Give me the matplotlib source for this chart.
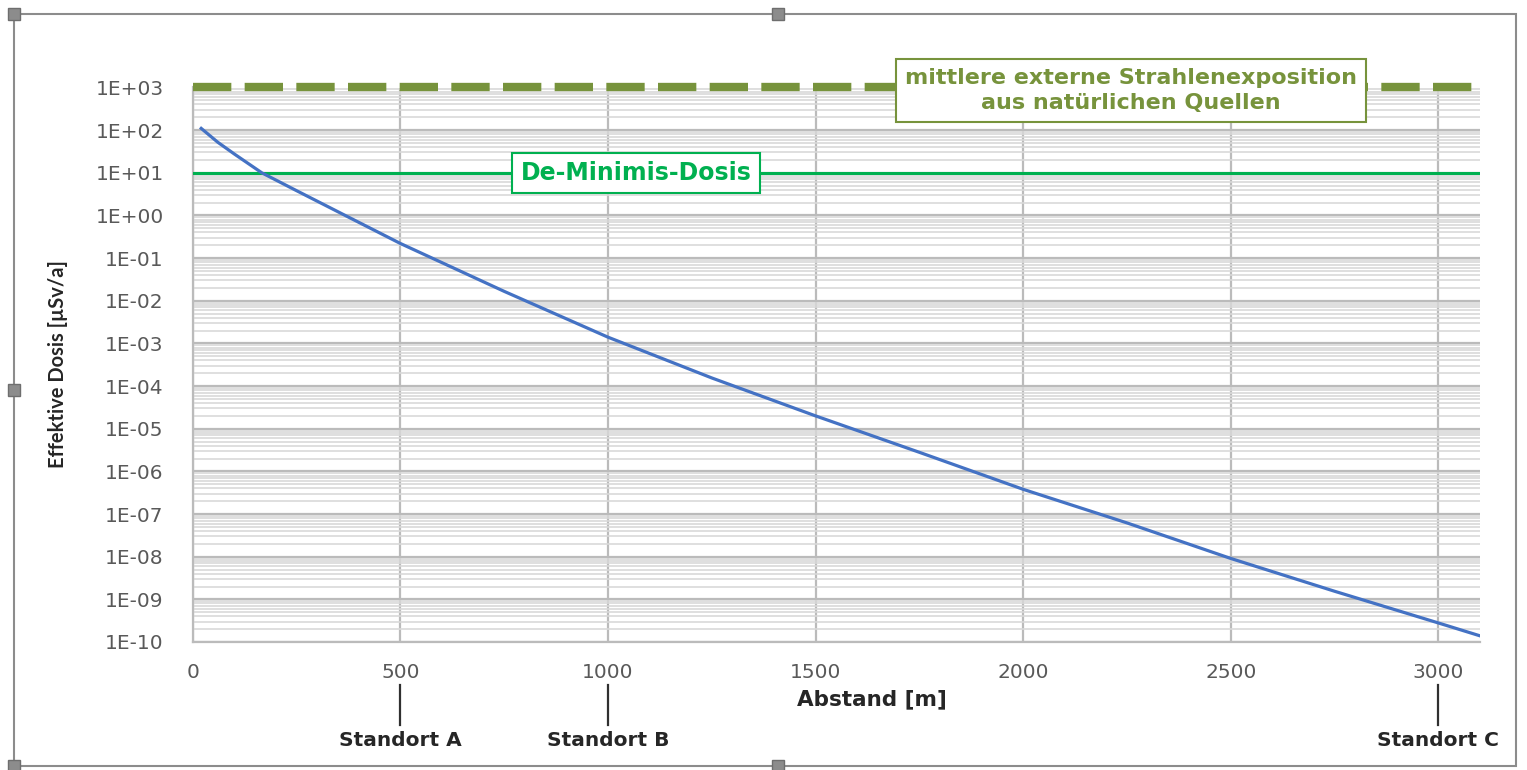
import numpy as np
import matplotlib.pyplot as plt
from matplotlib.patches import Rectangle
from matplotlib.transforms import blended_transform_factory

# Effektive Dosis in Abhängigkeit vom Abstand zur Quelle
abstand = [20, 60, 100, 166, 250, 367, 500, 750, 1000, 1250, 1500, 1750,
           2000, 2250, 2500, 2750, 3000, 3100]
dosis = [1.1e2, 5.2e1, 2.75e1, 1.0e1, 3.8e0, 1.0e0, 2.2e-1, 1.66e-2, 1.4e-3,
         1.55e-4, 2.0e-5, 2.8e-6, 3.8e-7, 6.2e-8, 9.1e-9, 1.55e-9, 2.8e-10, 1.4e-10]

# Referenzwerte [µSv/a]
natuerliche_exposition = 1e3
de_minimis = 1e1

standorte = ['Standort A', 'Standort B', 'Standort C']
standort_x = [500, 1000, 3000]

x_ticks = [0, 500, 1000, 1500, 2000, 2500, 3000]
y_exp = np.arange(-10, 4)

W, H = 1527, 770
fig = plt.figure(figsize=(W / 100, H / 100), dpi=100)
ax = fig.add_axes([192.9 / W, 1 - 642 / H, (1479.8 - 192.9) / W, (642 - 87.5) / H])

ax.set_yscale('log')
ax.set_xlim(0, 3100)
ax.set_ylim(1e-10, 1e3)

# Gitter
ax.set_yticks(10.0 ** y_exp, [f'1E{e:+03d}' for e in y_exp])
ax.set_yticks([m * 10.0 ** e for e in y_exp[:-1] for m in range(2, 10)], minor=True)
ax.set_xticks(x_ticks, [str(v) for v in x_ticks])
ax.grid(True, which='major', color='#BBBBBB', lw=1.6)
ax.grid(True, which='minor', axis='y', color='#D9D9D9', lw=1.2)
ax.set_axisbelow(True)
ax.tick_params(which='both', length=0)
ax.tick_params(axis='y', pad=21, labelsize=14.5, labelcolor='#595959')
ax.tick_params(axis='x', pad=15, labelsize=14.5, labelcolor='#595959')
for s in ['top', 'right']:
    ax.spines[s].set_visible(False)
for s in ['left', 'bottom']:
    ax.spines[s].set_color('#BBBBBB')
    ax.spines[s].set_linewidth(1.6)

# Kurve und Referenzlinien
ax.plot(abstand, dosis, color='#4472C4', lw=2.3, zorder=4)
ax.axhline(natuerliche_exposition, color='#77933C', lw=6, dashes=(4.6, 1.6),
           clip_on=False, zorder=3)
ax.axhline(de_minimis, color='#00B050', lw=2.2, zorder=3)

ax.text(2260, 850, 'mittlere externe Strahlenexposition\naus natürlichen Quellen',
        ha='center', va='center', color='#77933C', fontsize=16, weight='bold',
        linespacing=1.35, zorder=6,
        bbox=dict(boxstyle='square,pad=0.4', fc='white', ec='#77933C', lw=1.5))
ax.text(1067, de_minimis, 'De-Minimis-Dosis', ha='center', va='center',
        color='#00B050', fontsize=17, weight='bold', zorder=6,
        bbox=dict(boxstyle='square,pad=0.35', fc='white', ec='#00B050', lw=1.5))

ax.set_xlabel('Abstand [m]', fontsize=15.5, weight='bold', color='#262626')
ax.xaxis.set_label_coords((872 - 192.9) / (1479.8 - 192.9), -0.085)
fig.text(58 / W, 1 - 364 / H, 'Effektive Dosis [µSv/a]', rotation=90,
         ha='center', va='center', fontsize=14.5, weight='bold', color='#262626',
         family=['Lato', 'DejaVu Sans'])

# Standorte unterhalb der x-Achse
trans = blended_transform_factory(ax.transData, ax.transAxes)
for name, xs in zip(standorte, standort_x):
    ax.plot([xs, xs], [-0.077, -0.150], color='#303030', lw=1.6,
            transform=trans, clip_on=False)
    ax.text(xs, -0.177, name, transform=trans, ha='center', va='center',
            fontsize=14.5, weight='bold', color='#262626')

# Rahmen des Diagrammobjekts
frame_c = '#8C8C8C'
fig.add_artist(Rectangle((14 / W, 1 - 766 / H), (1516 - 14) / W, (766 - 14) / H,
                         transform=fig.transFigure, fill=False, ec=frame_c, lw=1.5))
for px, py in [(778, 14), (14, 390), (778, 766), (14, 14), (14, 766)]:
    fig.add_artist(Rectangle(((px - 6) / W, 1 - (py + 6) / H), 12 / W, 12 / H,
                             transform=fig.transFigure, fc=frame_c, ec='#6E6E6E'))

fig.savefig('out.png', dpi=100)
